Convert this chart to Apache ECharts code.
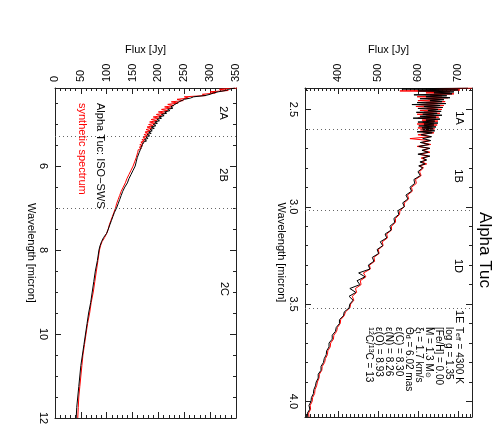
<!DOCTYPE html>
<html><head><meta charset="utf-8">
<script src="https://cdn.jsdelivr.net/npm/echarts@6/dist/echarts.min.js"></script>
<style>html,body{margin:0;padding:0;background:#fff}#c{width:500px;height:445px}</style>
</head><body><div id="c"></div><script>
// ---------- data: panel A (SWS bands 1A-1E) ----------
const wlA = [
 2.390,2.395,2.400,2.405,2.410,2.415,2.420,2.425,2.430,2.435,
 2.440,2.445,2.450,2.455,2.460,2.465,2.470,2.475,2.480,2.485,
 2.490,2.495,2.500,2.505,2.510,2.515,2.520,2.525,2.530,2.535,
 2.540,2.545,2.550,2.555,2.560,2.565,2.570,2.575,2.580,2.585,
 2.590,2.595,2.600,2.605,2.610,2.615,2.620,
 2.63,2.64,2.65,2.66,2.67,2.68,2.69,2.70,2.71,2.72,2.73,2.74,2.75,2.76,2.77,2.78,2.79,2.80,
 2.82,2.84,2.86,2.88,2.90,2.92,2.94,2.96,2.98,3.00,
 3.02,3.04,3.06,3.08,3.10,3.12,3.14,3.16,3.18,3.20,
 3.22,3.24,3.26,3.28,3.30,3.32,3.34,3.36,3.38,3.40,
 3.42,3.44,3.46,3.48,3.50,3.52,3.54,3.56,3.58,3.60,
 3.62,3.64,3.66,3.68,3.70,3.72,3.74,3.76,3.78,3.80,
 3.82,3.84,3.86,3.88,3.90,3.92,3.94,3.96,3.98,4.00,
 4.02,4.04,4.06,4.08];
const obsA = [
 725,560,700,600,690,640,685,590,672,620,
 680,605,665,630,660,598,670,585,655,615,
 662,600,650,625,658,596,648,612,660,605,
 645,588,655,620,642,600,650,615,640,602,
 645,610,638,612,642,598,636,
 608,634,612,632,606,628,602,630,610,626,600,630,612,622,605,618,602,612,
 600,606,590,592,580,584,570,575,562,566,
 550,552,540,542,530,533,518,522,506,512,
 498,502,486,490,476,480,452,468,448,455,
 430,445,428,438,430,428,416,414,404,404,
 396,394,386,386,378,378,372,371,366,364,
 358,358,351,351,346,344,340,339,334,333,
 328,330,324,325];
const synA = [
 735,640,705,555,680,620,690,630,660,598,
 675,625,655,600,668,620,650,602,665,595,
 648,622,660,605,645,615,655,598,640,620,
 652,600,645,610,650,612,640,598,648,615,
 636,600,642,606,634,612,640,
 600,632,580,630,610,632,598,628,612,630,604,626,608,620,610,622,604,614,
 604,608,594,596,584,586,574,577,566,566,
 555,554,544,544,534,534,522,524,511,513,
 501,503,490,492,479,481,464,470,456,458,
 444,447,436,440,432,430,419,416,407,406,
 399,397,390,389,382,381,375,374,369,367,
 361,360,354,353,349,347,343,342,337,336,
 331,332,327,328];
// ---------- data: panel B (SWS bands 2A-2C) ----------
const wlB = [
 4.14,4.17,4.20,4.23,4.26,4.29,4.32,4.35,4.38,4.41,
 4.44,4.47,4.50,4.53,4.56,4.59,4.62,4.65,4.68,4.71,
 4.74,4.77,4.80,4.83,4.86,4.89,4.92,4.95,4.98,5.01,
 5.04,5.07,5.10,5.13,5.16,5.19,5.22,5.25,5.28,5.31,
 5.34,5.37,5.40,5.43,5.46,5.49,5.52,5.55,5.58,5.61,
 5.64,5.67,5.70,
 5.8,5.9,6.0,6.1,6.2,6.3,6.4,6.5,6.6,6.7,
 6.8,6.9,7.0,7.1,7.2,7.3,7.4,7.5,7.6,7.7,
 7.8,7.9,8.0,
 8.25,8.5,8.75,9.0,9.25,9.5,9.75,10.0,
 10.25,10.5,10.75,11.0,11.25,11.5,11.75,12.0];
const obsB = [
 348,336,330,316,306,300,290,268,262,250,
 252,240,242,232,234,224,228,218,222,212,
 216,206,211,201,206,197,202,193,198,190,
 195,186,192,184,188,181,186,178,183,176,
 180,173,177,171,174,169,172,167,170,165,
 167,163,164,
 159,157,155,151,147,143,140,135,131,128,
 125,122,119,115,112,109,106,103,100,94,
 90,87,85,
 82,78,75,72,69,65,62,59,
 56,53,50,48,46,44,42,41];
const synB = [
 352,318,335,300,310,285,292,250,258,236,
 248,225,238,218,230,212,224,206,218,200,
 212,196,206,190,201,186,197,183,194,181,
 190,178,187,176,184,174,181,172,179,170,
 176,168,173,166,171,164,169,163,167,161,
 164,160,162,
 157,154,151,147,143,139,136,132,128,125,
 122,119,117,114,111,108,105,103,100,96,
 91,88,86,
 83,80,77,74,70,67,63,60,
 57,54,52,50,48,46,45,44];
// ---------- band edges & ticks ----------
const bandEdgesA = [2.60, 3.02, 3.52];
const bandEdgesB = [5.30, 7.00];
const bandNamesA = ['1A', '1B', '1D', '1E'];
const bandNamesB = ['2A', '2B', '2C'];
const fluxTicksA = [400, 500, 600, 700];
const fluxTicksB = [0, 50, 100, 150, 200, 250, 300, 350];
const wlTicksA = [2.5, 3.0, 3.5, 4.0];
const wlTicksB = [6, 8, 10, 12];
const fluxRangeA = [318, 735], wlRangeA = [2.39, 4.08];
const fluxRangeB = [0, 350], wlRangeB = [4.14, 12];
const paramLines = [
 'T{s|eff} = 4300 K',
 'log g = 1.35',
 '[Fe/H] = 0.00',
 'M = 1.3 M{s|\u2299}',
 '\u03be{s|t} = 1.7 km/s',
 '\u0398{s|d} = 6.02 mas',
 '\u03b5(C) = 8.30',
 '\u03b5(N) = 8.26',
 '\u03b5(O) = 8.93',
 '{p|12}C/{p|13}C = 13'];

function minorList(lo, hi, step, majors) {
  const out = [];
  const n = Math.round((hi - lo) / step);
  for (let i = 0; i <= n; i++) {
    const v = Math.round((lo + i * step) * 1000) / 1000;
    if (!majors.some(m => Math.abs(m - v) < 1e-6)) out.push(v);
  }
  return out;
}
const fluxMinA = minorList(320, 730, 10, fluxTicksA);
const fluxMinB = minorList(0, 350, 10, fluxTicksB);
const wlMinA = minorList(2.4, 4.0, 0.1, wlTicksA);
const wlMinB = minorList(4.5, 11.5, 0.5, wlTicksB);

const FONT = "'Liberation Sans', Arial, sans-serif";
const AX = '#222';
const txt = {fontFamily: FONT, fontSize: 11, color: '#000'};

function axesSet(dim, g, range, majors, minors, fmt, name) {
  const base = {type: 'value', gridIndex: g, min: range[0], max: range[1], splitLine: {show: false}, silent: true, inverse: dim === 'y'};
  const pos = dim === 'x' ? ['top', 'bottom'] : ['left', 'right'];
  const line = {show: true, onZero: false, lineStyle: {color: AX, width: 1}};
  const noLine = {show: false, onZero: false};
  const tk = (vals, len) => ({show: true, inside: true, length: len, customValues: vals, lineStyle: {color: AX, width: 1}});
  const main = Object.assign({}, base, {
    position: pos[0], axisLine: line, axisTick: tk(majors, 6),
    axisLabel: Object.assign({show: true, customValues: majors, rotate: -90, margin: 6, formatter: fmt}, txt),
    name: name, nameLocation: 'middle', nameTextStyle: txt,
    nameGap: dim === 'x' ? 28 : 18, nameRotate: dim === 'x' ? 0 : -90
  });
  return [
    main,
    Object.assign({}, base, {position: pos[0], axisLine: noLine, axisTick: tk(minors, 3), axisLabel: {show: false}}),
    Object.assign({}, base, {position: pos[1], axisLine: line, axisTick: tk(majors, 6), axisLabel: {show: false}}),
    Object.assign({}, base, {position: pos[1], axisLine: noLine, axisTick: tk(minors, 3), axisLabel: {show: false}})
  ];
}

const xAxes = axesSet('x', 0, fluxRangeA, fluxTicksA, fluxMinA, v => String(v), 'Flux [Jy]')
  .concat(axesSet('x', 1, fluxRangeB, fluxTicksB, fluxMinB, v => String(v), 'Flux [Jy]'));
const yAxes = axesSet('y', 0, wlRangeA, wlTicksA, wlMinA, v => v.toFixed(1), 'Wavelength [micron]')
  .concat(axesSet('y', 1, wlRangeB, wlTicksB, wlMinB, v => String(v), 'Wavelength [micron]'));

const pairs = (wl, f) => wl.map((w, i) => [f[i], w]);
const dotted = edges => ({silent: true, symbol: 'none', animation: false, label: {show: false},
  lineStyle: {type: [1, 3], color: '#666', width: 1}, emphasis: {disabled: true},
  data: edges.map(v => ({yAxis: v}))});
const lineSeries = (name, data, color, xi, yi, extra) => Object.assign({
  type: 'line', name: name, data: data, xAxisIndex: xi, yAxisIndex: yi,
  showSymbol: false, symbol: 'none', lineStyle: {color: color, width: 1}, itemStyle: {color: color},
  animation: false, silent: true, clip: true
}, extra || {});

const R = -Math.PI / 2;
const gtext = (x, y, text, opts) => ({type: 'text', x: x, y: y, rotation: R, silent: true,
  style: Object.assign({text: text, fill: '#000', font: '11px ' + FONT, align: 'center', verticalAlign: 'middle'}, opts || {})});

const graphics = [
  gtext(485, 250, 'Alpha Tuc', {font: '17px ' + FONT}),
  gtext(459, 118, bandNamesA[0]),
  gtext(458, 176, bandNamesA[1]),
  gtext(458, 266, bandNamesA[2]),
  gtext(459, 310, bandNamesA[3], {align: 'left'}),
  gtext(223, 113, bandNamesB[0]),
  gtext(223, 175, bandNamesB[1]),
  gtext(224, 289, bandNamesB[2]),
  gtext(100, 103, 'Alpha Tuc: ISO\u2212SWS', {align: 'left'}),
  gtext(82, 103, 'synthetic spectrum', {align: 'left', fill: '#ff0000'})
];
paramLines.forEach((t, i) => {
  graphics.push(gtext(459 - 10 * i, 327, t, {align: 'left', font: '10px ' + FONT,
    rich: {s: {fontSize: 7, fontFamily: FONT, verticalAlign: 'bottom'}, p: {fontSize: 7, fontFamily: FONT, verticalAlign: 'top'}}}));
});

const chart = echarts.init(document.getElementById('c'), null, {renderer: 'canvas'});
chart.setOption({
  animation: false,
  backgroundColor: '#fff',
  textStyle: {fontFamily: FONT},
  grid: [
    {left: 305, top: 88, width: 167, height: 329, outerBoundsMode: 'none', containLabel: false},
    {left: 55, top: 88, width: 181, height: 330, outerBoundsMode: 'none', containLabel: false}
  ],
  xAxis: xAxes,
  yAxis: yAxes,
  series: [
    lineSeries('synthetic A', pairs(wlA, synA), '#ff0000', 0, 0, {markLine: dotted(bandEdgesA)}),
    lineSeries('ISO-SWS A', pairs(wlA, obsA), '#000000', 0, 0),
    lineSeries('synthetic B', pairs(wlB, synB), '#ff0000', 4, 4, {markLine: dotted(bandEdgesB)}),
    lineSeries('ISO-SWS B', pairs(wlB, obsB), '#000000', 4, 4)
  ],
  graphic: graphics
});
</script></body></html>
